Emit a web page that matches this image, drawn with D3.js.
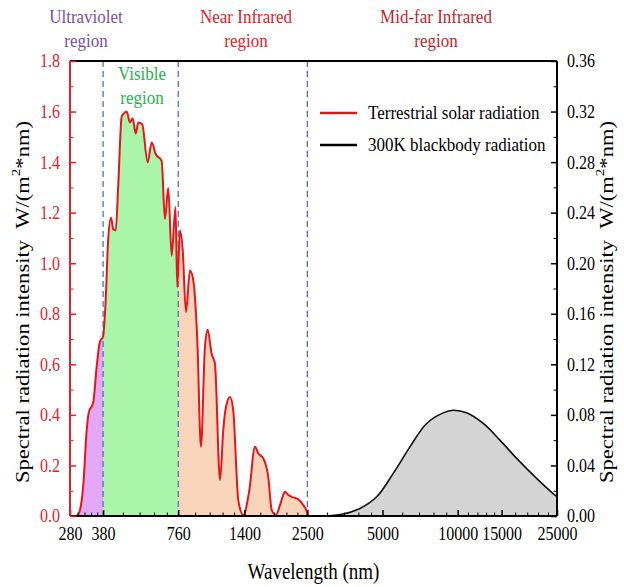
<!DOCTYPE html>
<html>
<head>
<meta charset="utf-8">
<script src="https://cdn.jsdelivr.net/npm/d3@7"></script>
<style>
  body { margin: 0; background: #fff; }
  svg { display: block; font-family: "Liberation Serif", "Times New Roman", serif; }
</style>
</head>
<body>
<svg id="chart" width="624" height="587"></svg>
<script>
// solar spectrum (left axis)
const solarWl = [280, 298, 307, 317, 326, 333, 347, 358, 369, 380, 389, 398, 409, 417, 427, 437, 451, 458, 472, 487, 499, 513, 526, 545, 573, 595, 617, 652, 672, 693, 715, 741, 753, 772, 792, 816, 847, 873, 906, 937, 972, 997, 1034, 1066, 1117, 1151, 1180, 1225, 1262, 1322, 1384, 1463, 1542, 1590, 1665, 1743, 1799, 1871, 1942, 1990, 2033, 2096, 2163, 2299, 2407, 2498, 2500];
const solarVal = [0, 0, 0.024, 0.13, 0.33, 0.41, 0.45, 0.59, 0.69, 0.71, 0.85, 1.09, 1.18, 1.135, 1.13, 1.31, 1.58, 1.59, 1.60, 1.557, 1.574, 1.513, 1.557, 1.55, 1.399, 1.478, 1.432, 1.405, 1.175, 1.298, 1.03, 1.222, 0.905, 1.129, 1.05, 0.807, 0.971, 0.932, 0.695, 0.274, 0.668, 0.737, 0.642, 0.603, 0.142, 0.34, 0.431, 0.471, 0.418, 0.063, 0.004, 0.10, 0.274, 0.247, 0.228, 0.155, 0.024, 0.004, 0.043, 0.076, 0.096, 0.083, 0.076, 0.066, 0.043, 0.011, 0];

// 300K blackbody (right axis)
const bbWl = [2990, 3480, 4060, 4740, 5520, 6440, 7510, 8750, 9600, 10860, 12660, 14770, 17230, 20710, 24520, 25000];
const bbVal = [0, 0.0016, 0.006, 0.0152, 0.0337, 0.0547, 0.0732, 0.0816, 0.0837, 0.0816, 0.0732, 0.060, 0.0456, 0.0298, 0.0166, 0.0155];

const xTicks = [280, 380, 760, 1400, 2500, 5000, 10000, 15000, 25000];
const yLeftTicks = [0, 0.2, 0.4, 0.6, 0.8, 1.0, 1.2, 1.4, 1.6, 1.8];
const yRightTicks = [0, 0.04, 0.08, 0.12, 0.16, 0.20, 0.24, 0.28, 0.32, 0.36];
const boundaries = [380, 760, 2500];

const regions = [
  {lo: 280, hi: 380, fill: '#e2a8f6'},
  {lo: 380, hi: 760, fill: '#aaf5a8'},
  {lo: 760, hi: 2500, fill: '#f8d5ba'}
];

const regionLabels = [
  {lines: ['Ultraviolet', 'region'], x: 86, y: 17, color: '#7650ae'},
  {lines: ['Near Infrared', 'region'], x: 246, y: 17, color: '#e3202b'},
  {lines: ['Mid-far Infrared', 'region'], x: 436, y: 17, color: '#c01f2e'},
  {lines: ['Visible', 'region'], x: 142, y: 74, color: '#27b24f'}
];

const legendItems = [
  {label: 'Terrestrial solar radiation', color: '#e8141c'},
  {label: '300K blackbody radiation', color: '#000'}
];

const plotL = 70, plotR = 557, plotT = 61, plotB = 516;
const stretchY = 1.16; // the source figure's lettering is taller than it is wide

const svg = d3.select('#chart');

const x = d3.scaleLog().domain([280, 25000]).range([plotL, plotR]);
const yL = d3.scaleLinear().domain([0, 1.8]).range([plotB, plotT]);
const yR = d3.scaleLinear().domain([0, 0.36]).range([plotB, plotT]);

const solar = solarWl.map((w, i) => ({w, v: solarVal[i]}));
const bb = bbWl.map((w, i) => ({w, v: bbVal[i]}));

// stretch text vertically around its own y
function tall(sel) {
  sel.each(function() {
    const y = +this.getAttribute('y') || 0;
    d3.select(this).attr('transform', `translate(0,${y}) scale(1,${stretchY}) translate(0,${-y})`);
  });
}

const defs = svg.append('defs');
regions.forEach((r, i) => {
  defs.append('clipPath').attr('id', 'clip' + i)
    .append('rect')
    .attr('x', x(r.lo)).attr('y', plotT)
    .attr('width', x(r.hi) - x(r.lo)).attr('height', plotB - plotT);
});

const solarArea = d3.area()
  .x(d => x(d.w)).y0(plotB).y1(d => yL(d.v))
  .curve(d3.curveMonotoneX);
const solarLine = d3.line()
  .x(d => x(d.w)).y(d => yL(d.v))
  .curve(d3.curveMonotoneX);

regions.forEach((r, i) => {
  svg.append('path').datum(solar)
    .attr('d', solarArea)
    .attr('fill', r.fill)
    .attr('clip-path', `url(#clip${i})`);
});

// blackbody
const bbCurve = d3.curveCatmullRom.alpha(0.5);
svg.append('path').datum(bb)
  .attr('d', d3.area().x(d => x(d.w)).y0(plotB).y1(d => yR(d.v)).curve(bbCurve))
  .attr('fill', '#d4d4d4');

// dashed region boundaries
svg.selectAll('.bound').data(boundaries).join('line')
  .attr('class', 'bound')
  .attr('x1', d => x(d)).attr('x2', d => x(d))
  .attr('y1', plotT).attr('y2', plotB)
  .attr('stroke', '#4a74c6').attr('stroke-width', 1.3)
  .attr('stroke-dasharray', '6,4');

svg.append('path').datum(bb)
  .attr('d', d3.line().x(d => x(d.w)).y(d => yR(d.v)).curve(bbCurve))
  .attr('fill', 'none').attr('stroke', '#111').attr('stroke-width', 1.6);

svg.append('path').datum(solar)
  .attr('d', solarLine)
  .attr('fill', 'none').attr('stroke', '#e8141c').attr('stroke-width', 2)
  .attr('stroke-linejoin', 'round');

// top frame
svg.append('line').attr('x1', plotL).attr('x2', plotR).attr('y1', plotT).attr('y2', plotT)
  .attr('stroke', '#000').attr('stroke-width', 2);

// minor ticks: linear subdivisions within each major segment
const xMinor = [];
for (let i = 0; i < xTicks.length - 1; i++) {
  const a = xTicks[i], b = xTicks[i + 1];
  for (let k = 1; k < 5; k++) xMinor.push(a + (b - a) * k / 5);
}
const yLMinor = d3.range(0.1, 1.8, 0.2);
const yRMinor = d3.range(0.02, 0.36, 0.04);

// bottom axis
const gx = svg.append('g').attr('transform', `translate(0,${plotB})`);
gx.append('g').call(d3.axisBottom(x).tickValues(xMinor).tickSize(-3.5).tickFormat(''))
  .call(g => g.select('.domain').remove());
gx.append('g').call(d3.axisBottom(x).tickValues(xTicks).tickSize(-6).tickPadding(11).tickFormat(d3.format('d')))
  .call(g => g.select('.domain').attr('stroke-width', 2).attr('d', `M${plotL},0H${plotR}`))
  .call(g => g.selectAll('.tick line').attr('stroke-width', 1.5))
  .call(g => g.selectAll('text').attr('font-size', 16).attr('fill', '#000').attr('font-family', 'Liberation Serif').call(tall));

// left axis (red)
const red = '#e3202b';
const gl = svg.append('g').attr('transform', `translate(${plotL},0)`);
gl.append('g').call(d3.axisLeft(yL).tickValues(yLMinor).tickSize(-3.5).tickFormat(''))
  .call(g => g.select('.domain').remove())
  .call(g => g.selectAll('line').attr('stroke', red));
gl.append('g').call(d3.axisLeft(yL).tickValues(yLeftTicks).tickSize(-6).tickPadding(10).tickFormat(d3.format('.1f')))
  .call(g => g.select('.domain').attr('stroke', red).attr('stroke-width', 2).attr('d', `M0,${plotB}V${plotT}`))
  .call(g => g.selectAll('.tick line').attr('stroke', red).attr('stroke-width', 1.5))
  .call(g => g.selectAll('text').attr('font-size', 16).attr('fill', red).attr('font-family', 'Liberation Serif').call(tall));

// right axis
const gr = svg.append('g').attr('transform', `translate(${plotR},0)`);
gr.append('g').call(d3.axisRight(yR).tickValues(yRMinor).tickSize(-3.5).tickFormat(''))
  .call(g => g.select('.domain').remove());
gr.append('g').call(d3.axisRight(yR).tickValues(yRightTicks).tickSize(-6).tickPadding(10).tickFormat(d3.format('.2f')))
  .call(g => g.select('.domain').attr('stroke-width', 2).attr('d', `M0,${plotB}V${plotT}`))
  .call(g => g.selectAll('.tick line').attr('stroke-width', 1.5))
  .call(g => g.selectAll('text').attr('font-size', 16).attr('fill', '#000').attr('font-family', 'Liberation Serif').call(tall));

// axis titles
svg.append('text')
  .attr('x', (plotL + plotR) / 2).attr('y', 572)
  .attr('text-anchor', 'middle').attr('dominant-baseline', 'central')
  .attr('font-size', 19).text('Wavelength (nm)')
  .call(tall);

function yTitle(cx) {
  const t = svg.append('text')
    .attr('transform', `translate(${cx},302) rotate(-90)`)
    .attr('text-anchor', 'middle').attr('dominant-baseline', 'central')
    .attr('font-size', 19.5)
    .attr('textLength', 362).attr('lengthAdjust', 'spacingAndGlyphs');
  t.append('tspan').text('Spectral radiation intensity\u00a0\u00a0W/(m');
  t.append('tspan').attr('font-size', 13).attr('dy', -7).text('2');
  t.append('tspan').attr('dy', 7).text('*nm)');
}
yTitle(22);
yTitle(606);

// region labels
regionLabels.forEach(r => {
  r.lines.forEach((s, i) => {
    svg.append('text')
      .attr('x', r.x).attr('y', r.y + i * 24)
      .attr('text-anchor', 'middle').attr('dominant-baseline', 'central')
      .attr('font-size', 17).attr('fill', r.color)
      .text(s)
      .call(tall);
  });
});

// legend
const lg = svg.append('g').attr('transform', 'translate(320,113)');
legendItems.forEach((d, i) => {
  const row = lg.append('g').attr('transform', `translate(0,${i * 32})`);
  row.append('line').attr('x1', 0).attr('x2', 37).attr('y1', 0).attr('y2', 0)
    .attr('stroke', d.color).attr('stroke-width', 2.5);
  row.append('text').attr('x', 48).attr('y', 0)
    .attr('dominant-baseline', 'central').attr('font-size', 17).text(d.label)
    .call(tall);
});
</script>
</body>
</html>
